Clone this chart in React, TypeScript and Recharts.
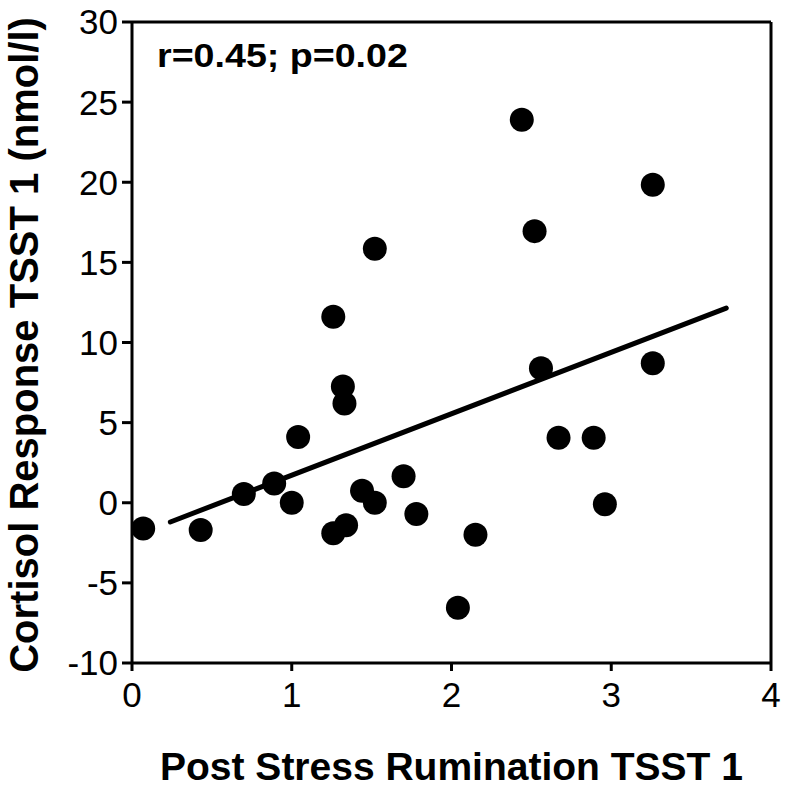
import { ScatterChart, Scatter, XAxis, YAxis, ReferenceLine, Label } from 'recharts'

// post stress rumination (x) and cortisol response (y), TSST 1
const rumination = [
  0.07, 0.43, 0.7, 0.89, 1.0, 1.04, 1.32, 1.33, 1.26, 1.34, 1.44, 1.52, 1.26, 1.52,
  1.7, 1.78, 2.15, 2.04, 2.67, 2.89, 2.96, 2.44, 3.26, 2.52, 2.56, 3.26,
]
const cortisol = [
  -1.6, -1.7, 0.55, 1.2, 0.0, 4.1, 7.25, 6.2, -1.9, -1.4, 0.75, 0.0, 11.6, 15.85,
  1.65, -0.7, -2.0, -6.55, 4.05, 4.05, -0.1, 23.9, 19.85, 16.95, 8.4, 8.7,
]

const fitX = [0.24, 3.72]
const fitY = [-1.2, 12.15]

const xTicks = [0, 1, 2, 3, 4]
const yTicks = [-10, -5, 0, 5, 10, 15, 20, 25, 30]

const points = rumination.map((x, i) => ({ x, y: cortisol[i] }))

const FONT = '"Liberation Sans", Arial, Helvetica, sans-serif'

const Dot = (props: any) => <circle cx={props.cx} cy={props.cy} r={12} fill="#000" />

const XTick = (props: any) => (
  <text x={props.x} y={props.y} dy="0.71em" textAnchor="middle" fontSize={35} fontFamily={FONT} fill="#000">
    {props.payload.value}
  </text>
)

const YTick = (props: any) => (
  <text x={props.x} y={props.y} dy="0.355em" textAnchor="end" fontSize={35} fontFamily={FONT} fill="#000">
    {props.payload.value}
  </text>
)

export default function App() {
  return (
    <div style={{ position: 'absolute', left: 0, top: 0, background: '#fff' }}>
      <ScatterChart
        width={787}
        height={790}
        margin={{ top: 22, right: 16, bottom: 0, left: 0 }}
        style={{ fontFamily: FONT }}
      >
        <XAxis
          type="number"
          dataKey="x"
          domain={[0, 4]}
          ticks={xTicks}
          height={127}
          tickSize={8}
          tickMargin={11}
          axisLine={{ stroke: '#000', strokeWidth: 3 }}
          tickLine={{ stroke: '#000', strokeWidth: 3 }}
          tick={XTick}
        >
          <Label
            content={() => (
              <text
                x={451.5}
                y={780}
                textAnchor="middle"
                fontSize={39}
                fontWeight="bold"
                fontFamily={FONT}
                fill="#000"
              >
                Post Stress Rumination TSST 1
              </text>
            )}
          />
        </XAxis>
        <YAxis
          type="number"
          dataKey="y"
          domain={[-10, 30]}
          ticks={yTicks}
          width={132}
          tickSize={10}
          tickMargin={4}
          axisLine={{ stroke: '#000', strokeWidth: 3 }}
          tickLine={{ stroke: '#000', strokeWidth: 3 }}
          tick={YTick}
        >
          <Label
            content={() => (
              <text
                x={38}
                y={345}
                transform="rotate(-90 38 345)"
                textAnchor="middle"
                fontSize={40}
                fontWeight="bold"
                fontFamily={FONT}
                fill="#000"
              >
                Cortisol Response TSST 1 (nmol/l)
              </text>
            )}
          />
        </YAxis>
        <ReferenceLine y={30} stroke="#000" strokeWidth={3} />
        <ReferenceLine x={4} stroke="#000" strokeWidth={3} />
        <ReferenceLine
          segment={[
            { x: fitX[0], y: fitY[0] },
            { x: fitX[1], y: fitY[1] },
          ]}
          stroke="#000"
          strokeWidth={5}
          strokeLinecap="round"
        />
        <Scatter data={points} shape={Dot} isAnimationActive={false} />
        <ReferenceLine
          y={30}
          stroke="none"
          label={() => (
            <text
              transform="translate(157 67) scale(1.14 1)"
              x={0}
              y={0}
              fontSize={33}
              fontWeight="bold"
              fontFamily={FONT}
              fill="#000"
            >
              r=0.45; p=0.02
            </text>
          )}
        />
      </ScatterChart>
    </div>
  )
}
